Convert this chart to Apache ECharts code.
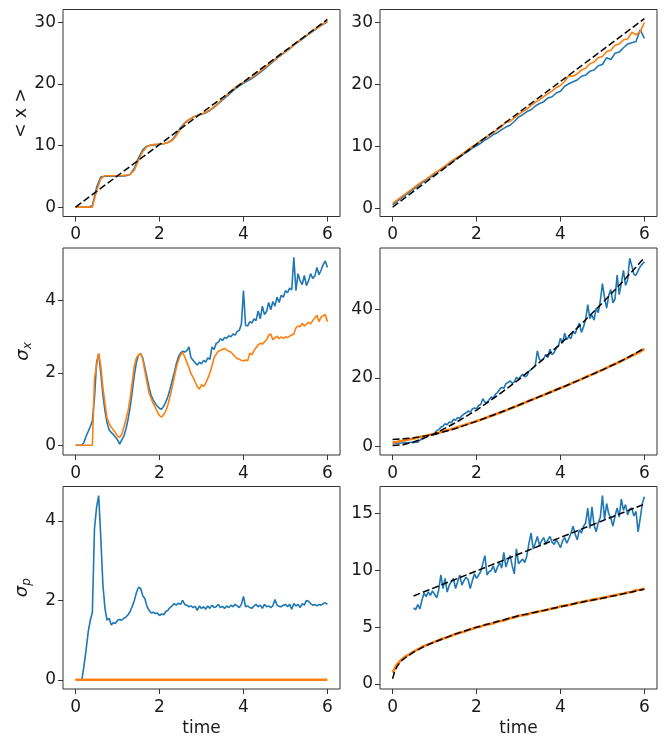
<!DOCTYPE html>
<html><head><meta charset="utf-8">
<script src="https://cdn.jsdelivr.net/npm/echarts@6/dist/echarts.min.js"></script>
<style>html,body{margin:0;padding:0;background:#fff}#c{width:667px;height:738px}</style>
</head><body><div id="c"></div>
<script>
// ---- sampling times ----
const tFine = [0,0.05,0.1,0.15,0.2,0.25,0.3,0.35,0.4,0.45,0.5,0.55,0.6,0.65,0.7,0.75,0.8,0.85,0.9,0.95,
1,1.05,1.1,1.15,1.2,1.25,1.3,1.35,1.4,1.45,1.5,1.55,1.6,1.65,1.7,1.75,1.8,1.85,1.9,1.95,
2,2.05,2.1,2.15,2.2,2.25,2.3,2.35,2.4,2.45,2.5,2.55,2.6,2.65,2.7,2.75,2.8,2.85,2.9,2.95,
3,3.05,3.1,3.15,3.2,3.25,3.3,3.35,3.4,3.45,3.5,3.55,3.6,3.65,3.7,3.75,3.8,3.85,3.9,3.95,
4,4.05,4.1,4.15,4.2,4.25,4.3,4.35,4.4,4.45,4.5,4.55,4.6,4.65,4.7,4.75,4.8,4.85,4.9,4.95,
5,5.05,5.1,5.15,5.2,5.25,5.3,5.35,5.4,5.45,5.5,5.55,5.6,5.65,5.7,5.75,5.8,5.85,5.9,5.95,6];
const tCoarse = [0,0.1,0.2,0.3,0.4,0.5,0.6,0.7,0.8,0.9,1,1.1,1.2,1.3,1.4,1.5,1.6,1.7,1.8,1.9,
2,2.1,2.2,2.3,2.4,2.5,2.6,2.7,2.8,2.9,3,3.1,3.2,3.3,3.4,3.5,3.6,3.7,3.8,3.9,
4,4.1,4.2,4.3,4.4,4.5,4.6,4.7,4.8,4.9,5,5.1,5.2,5.3,5.4,5.5,5.6,5.7,5.8,5.9,6];
const tLate = tFine.slice(10); // 0.5 .. 6

// ---- panel 1: <x> (left) ----
const meanXBlueL = [0,0,0,0,0.2,3.2,4.9,5.0,5.0,5.0, 5.0,5.0,5.1,5.3,6.3,8.0,9.3,9.9,10.1,10.1,
10.2,10.3,10.5,10.9,11.8,12.9,13.7,14.2,14.6,14.9, 15.1,15.3,15.7,16.2,16.8,17.4,18.0,18.6,19.2,19.7,
20.1,20.5,20.9,21.4,21.9,22.4,23.0,23.6,24.2,24.7, 25.2,25.7,26.3,26.8,27.3,27.8,28.3,28.8,29.3,29.7, 30.1];
const meanXOrangeL = [0,0,0,0,0,2.6,4.6,5.1,5.1,5.1, 5.1,5.1,5.2,5.3,6.0,7.6,9.0,9.8,10.1,10.2,
10.2,10.3,10.5,10.8,11.6,12.7,13.6,14.2,14.6,14.9, 15.1,15.4,15.8,16.3,16.9,17.6,18.2,18.8,19.4,19.9,
20.3,20.7,21.1,21.6,22.1,22.6,23.2,23.7,24.3,24.8, 25.3,25.8,26.4,26.9,27.4,27.9,28.4,28.9,29.3,29.8, 30.2];
const meanXFitLT = [0, 6];
const meanXFitL = [0, 30.5];

// ---- panel 2: <x> (right) ----
const meanXBlueR = [0.6,1.1,1.6,2.1,2.6,3.1,3.6,4.1,4.6,5.0, 5.5,6.0,6.5,6.9,7.4,7.9,8.3,8.8,9.2,9.7,
10.1,10.5,11.0,11.4,11.9,12.2,12.7,13.1,13.4,14.0, 14.7,15.1,15.6,15.9,16.5,16.9,17.2,17.8,18.0,18.6,
18.9,19.7,20.1,20.4,20.7,21.3,21.5,22.1,22.3,23.0, 23.2,24.3,24.0,25.0,25.2,25.9,26.5,26.7,26.9,28.8, 27.4];
const meanXOrangeR = [0.8,1.3,1.8,2.3,2.8,3.3,3.8,4.3,4.7,5.2, 5.7,6.1,6.6,7.1,7.6,8.1,8.5,9.0,9.5,10.0,
10.4,10.9,11.3,11.8,12.2,12.7,13.2,13.9,14.0,14.6, 15.1,15.6,16.0,16.6,17.1,17.5,18.0,18.5,18.9,19.5,
19.8,20.5,21.4,21.3,21.7,22.3,22.6,23.3,23.6,24.3, 24.5,25.3,25.5,26.3,26.5,27.2,27.3,28.4,28.0,28.5, 30.0];
const meanXFitRT = [0, 6];
const meanXFitR = [0.2, 30.6];

// ---- panel 3: sigma_x (left) ----
const sxBlueL = [0,0,0,0,0.08,0.25,0.38,0.52,0.68,1.3,2.3,2.53,2.0,1.4,0.95,0.62,0.42,0.35,0.3,0.22,
0.15,0.03,0.15,0.25,0.45,0.72,1.05,1.5,1.95,2.3,2.5,2.54,2.42,2.15,1.88,1.6,1.38,1.25,1.15,1.08,
1.02,1.0,1.08,1.2,1.35,1.55,1.78,2.0,2.25,2.45,2.55,2.6,2.58,2.62,2.72,2.42,2.35,2.28,2.22,2.3,
2.25,2.35,2.3,2.42,2.38,2.72,2.65,2.82,2.85,2.95,2.9,2.98,2.96,3.03,3.0,3.08,3.05,3.15,3.18,3.35,
4.28,3.32,3.3,3.42,3.38,3.5,3.45,3.72,3.5,3.85,3.62,3.7,3.95,3.75,3.98,3.85,4.1,3.95,4.15,4.1,
4.28,4.22,4.35,4.3,5.2,4.28,4.75,4.55,4.45,4.7,4.42,4.55,4.75,4.62,4.68,4.92,4.72,4.85,5.0,5.1, 4.92];
const sxOrangeL = [0,0,0,0,0,0,0,0,0,1.85,2.2,2.54,2.2,1.6,1.15,0.75,0.6,0.5,0.42,0.35,
0.25,0.22,0.3,0.5,0.72,0.95,1.3,1.75,2.2,2.42,2.5,2.54,2.38,2.05,1.75,1.45,1.3,1.15,1.05,0.92,
0.82,0.78,0.85,0.95,1.12,1.35,1.6,1.88,2.15,2.35,2.5,2.57,2.45,2.3,2.15,1.98,1.88,1.75,1.62,1.55,
1.68,1.62,1.72,1.85,2.0,2.2,2.42,2.52,2.6,2.62,2.66,2.68,2.64,2.6,2.58,2.52,2.45,2.4,2.38,2.35,
2.33,2.36,2.34,2.55,2.5,2.62,2.7,2.78,2.82,2.8,2.86,2.92,3.05,3.08,2.92,2.98,3.02,2.95,3.0,2.96,
3.0,2.98,3.02,3.05,3.08,3.25,3.3,3.28,3.38,3.3,3.35,3.4,3.36,3.45,3.52,3.6,3.42,3.55,3.58,3.62, 3.42];

// ---- panel 4: sigma_x (right) ----
const sxBlueR = [0.9,0.9,1.0,0.9,1.0,1.0,1.1,1.0,1.1,1.2,1.1,1.3,1.2,1.8,2.2,2.6,3.0,3.3,3.5,3.4,
3.8,4.6,4.9,5.6,5.9,6.6,6.3,7.1,6.9,7.9,7.6,8.4,8.2,8.9,9.4,9.8,10.3,10.0,10.9,11.2,
11.0,11.9,12.2,13.9,12.9,12.8,13.6,14.4,14.1,15.2,15.7,16.6,17.2,16.9,18.3,18.6,19.1,18.4,18.8,20.1,
19.6,20.4,21.0,20.3,20.6,21.9,22.4,22.9,23.6,27.8,25.3,24.9,25.6,26.8,25.9,28.3,26.7,27.4,28.6,29.2,
31.5,30.1,33.0,31.1,32.0,31.4,33.6,32.8,34.5,35.9,33.2,34.9,36.9,41.3,37.2,38.3,36.8,40.3,39.0,42.4,
47.4,43.3,40.3,44.0,45.7,41.8,43.0,49.9,44.2,47.6,51.3,46.9,48.5,54.8,52.6,50.1,49.9,51.2,52.4,53.1, 53.8];
const sxOrangeR = [1.1,1.3,1.6,1.8,2.1,2.3,2.6,2.9,3.1,3.4, 3.7,4.0,4.4,4.7,5.0,5.4,5.8,6.2,6.6,7.0,
7.4,7.8,8.2,8.7,9.1,9.6,10.0,10.5,11.0,11.5, 12.0,12.5,13.0,13.5,14.0,14.5,15.0,15.5,16.0,16.5,
17.0,17.5,18.0,18.6,19.1,19.6,20.2,20.7,21.2,21.8, 22.3,22.9,23.5,24.0,24.6,25.2,25.8,26.4,27.0,27.6, 28.4];
const sxFitT = [0,0.25,0.5,0.75,1,1.5,2,2.5,3,3.5,4,4.5,5,5.5,6];
const sxFitBlue = [0.3,0.5,1.3,2.4,3.7,6.9,10.6,14.8,19.4,24.5,29.9,35.7,41.8,48.2,55.0];
const sxFitOrange = [2.0,2.2,2.5,3.0,3.5,5.2,7.3,9.6,12.0,14.5,17.0,19.6,22.3,25.2,28.6];

// ---- panel 5: sigma_p (left) ----
const spBlueL = [0,0,0,0,0.35,0.75,1.2,1.5,1.7,3.8,4.35,4.64,3.6,2.4,1.8,1.5,1.55,1.38,1.44,1.42,
1.5,1.52,1.5,1.55,1.58,1.64,1.72,1.85,2.0,2.2,2.33,2.3,2.12,2.05,1.85,1.75,1.68,1.7,1.67,1.68,
1.62,1.66,1.64,1.72,1.75,1.82,1.86,1.92,1.88,1.93,1.9,2.0,1.9,1.88,1.84,1.86,1.82,1.85,1.75,1.86,
1.8,1.84,1.78,1.86,1.8,1.88,1.82,1.84,1.9,1.82,1.85,1.8,1.86,1.82,1.88,1.84,1.9,1.86,1.82,1.9,
2.1,1.84,1.86,1.82,1.8,1.86,1.9,1.84,1.88,1.8,1.9,1.84,1.86,1.82,1.86,2.02,1.88,1.85,1.84,1.88,
1.9,1.84,1.9,1.78,1.92,1.86,1.9,1.82,1.92,1.88,2.0,1.98,1.92,1.88,1.9,1.86,1.9,1.88,1.92,1.94, 1.9];
const spOrangeLT = [0, 6];
const spOrangeL = [0, 0];

// ---- panel 6: sigma_p (right) ----
const spBlueR = [6.7,6.55,7.0,6.6,7.4,8.0,7.7,8.1,7.8,8.2,
7.9,7.6,8.3,9.6,8.4,9.3,8.1,8.7,9.0,9.3,8.4,9.0,9.6,8.7,9.1,9.4,9.2,8.4,9.1,9.7,
9.3,9.6,9.9,10.6,11.3,9.6,9.9,10.0,10.4,9.8,10.3,10.7,10.2,11.6,10.3,10.9,11.3,10.4,9.7,11.9,
10.6,10.8,11.0,10.7,11.3,12.4,13.3,11.9,12.4,13.0,12.2,12.6,12.9,12.3,12.7,13.0,12.5,12.3,12.7,12.4,
12.0,12.6,12.9,12.4,12.8,13.3,13.9,13.2,12.7,13.6,13.3,13.9,14.2,15.5,13.7,15.6,14.0,13.4,14.2,14.7,
16.6,14.5,15.9,15.0,14.6,13.9,14.8,15.5,14.7,16.3,15.3,15.8,14.9,15.4,15.5,14.8,15.2,13.4,14.6,15.9, 16.5];
const spOrangeR = [1.0,1.7,2.1,2.4,2.6,2.85,3.05,3.25,3.4,3.55, 3.7,3.85,4.0,4.1,4.25,4.4,4.5,4.6,4.75,4.85,
5.0,5.05,5.2,5.25,5.35,5.5,5.55,5.65,5.8,5.85, 6.0,6.05,6.1,6.25,6.3,6.4,6.45,6.55,6.65,6.7,
6.85,6.9,6.95,7.05,7.15,7.2,7.3,7.35,7.45,7.5, 7.6,7.65,7.75,7.8,7.9,7.95,8.05,8.1,8.25,8.3, 8.4];
const spFitBlueT = [0.5, 6];
const spFitBlue = [7.75, 15.85];
const spFitOrangeT = [0,0.05,0.1,0.2,0.3,0.5,0.75,1,1.5,2,2.5,3,3.5,4,4.5,5,5.5,6];
const spFitOrange = [0.45,1.1,1.5,2.0,2.3,2.8,3.3,3.7,4.4,5.0,5.5,6.0,6.4,6.8,7.2,7.55,7.95,8.35];

// ---- ticks ----
const xTicks = [0, 2, 4, 6];
const yTicks = [[0,10,20,30],[0,10,20,30],[0,2,4],[0,20,40],[0,2,4],[0,5,10,15]];
const yRange = [[-1.53,32.1],[-1.32,32.07],[-0.27,5.46],[-2.5,57.8],[-0.232,4.87],[-0.45,17.4]];

const BLUE = '#1f77b4', ORANGE = '#ff7f0e', FONT = 'DejaVu Sans';
const zip = (t, v) => v.map((y, i) => [t[i], y]);

const lefts = [63, 380], tops = [9.5, 248, 486.5];
const grids = [], xAxes = [], yAxes = [];
const yNames = ['< x >', '', '{s|σ}{sub|x}', '', '{s|σ}{sub|p}', ''];
const yNameGaps = [26, 0, 29, 0, 30, 0];
for (let i = 0; i < 6; i++) {
  const r = Math.floor(i / 2), c = i % 2;
  grids.push({left: lefts[c], top: tops[r], width: 277, height: 207, show: true,
    borderColor: '#333', borderWidth: 1, backgroundColor: '#fff', containLabel: false});
  xAxes.push({type: 'value', gridIndex: i, min: -0.3, max: 6.3, position: 'bottom',
    axisLine: {show: false, onZero: false}, splitLine: {show: false},
    axisTick: {show: true, length: 5, lineStyle: {color: '#333'}, customValues: xTicks},
    axisLabel: {customValues: xTicks, fontSize: 17, fontFamily: FONT, color: '#1a1a1a', margin: 10},
    name: r === 2 ? 'time' : '', nameLocation: 'middle', nameGap: 31,
    nameTextStyle: {fontSize: 17, fontFamily: FONT, color: '#1a1a1a'}});
  yAxes.push({type: 'value', gridIndex: i, min: yRange[i][0], max: yRange[i][1], position: 'left',
    axisLine: {show: false, onZero: false}, splitLine: {show: false},
    axisTick: {show: true, length: 5, lineStyle: {color: '#333'}, customValues: yTicks[i]},
    axisLabel: {customValues: yTicks[i], fontSize: 17, fontFamily: FONT, color: '#1a1a1a', margin: 7},
    name: yNames[i], nameLocation: 'middle', nameGap: yNameGaps[i], nameRotate: 90,
    nameTextStyle: {fontSize: 17, fontFamily: FONT, color: '#1a1a1a',
      rich: {s: {fontSize: 18, fontStyle: 'italic', fontFamily: FONT, color: '#1a1a1a', verticalAlign: 'middle', lineHeight: 22},
             sub: {fontSize: 12, fontStyle: 'italic', fontFamily: FONT, color: '#1a1a1a', verticalAlign: 'bottom', lineHeight: 22, padding: [8, 0, 0, 0]}}}});
}

function line(idx, data, color, width, dashed, z) {
  return {type: 'line', xAxisIndex: idx, yAxisIndex: idx, data: data, showSymbol: false,
    symbol: 'none', animation: false, silent: true,
    lineStyle: {color: color, width: width, type: dashed ? [7, 3] : 'solid'},
    itemStyle: {color: color}, z: z || (dashed ? 5 : 3)};
}

const series = [
  line(0, zip(tCoarse, meanXBlueL), BLUE, 1.6),
  line(0, zip(tCoarse, meanXOrangeL), ORANGE, 1.6, false, 4),
  line(0, zip(meanXFitLT, meanXFitL), '#000', 1.5, true),
  line(1, zip(tCoarse, meanXBlueR), BLUE, 1.6),
  line(1, zip(tCoarse, meanXOrangeR), ORANGE, 1.6, false, 4),
  line(1, zip(meanXFitRT, meanXFitR), '#000', 1.5, true),
  line(2, zip(tFine, sxBlueL), BLUE, 1.6),
  line(2, zip(tFine, sxOrangeL), ORANGE, 1.6, false, 4),
  line(3, zip(tFine, sxBlueR), BLUE, 1.6),
  line(3, zip(tCoarse, sxOrangeR), ORANGE, 2.6, false, 4),
  line(3, zip(sxFitT, sxFitBlue), '#000', 1.5, true),
  line(3, zip(sxFitT, sxFitOrange), '#000', 1.5, true),
  line(4, zip(tFine, spBlueL), BLUE, 1.6),
  line(4, zip(spOrangeLT, spOrangeL), ORANGE, 2.4, false, 4),
  line(5, zip(tLate, spBlueR), BLUE, 1.6),
  line(5, zip(tCoarse, spOrangeR), ORANGE, 2.6, false, 4),
  line(5, zip(spFitBlueT, spFitBlue), '#000', 1.5, true),
  line(5, zip(spFitOrangeT, spFitOrange), '#000', 1.5, true)
];

const chart = echarts.init(document.getElementById('c'), null, {renderer: 'canvas'});
chart.setOption({animation: false, backgroundColor: '#fff', grid: grids, xAxis: xAxes, yAxis: yAxes, series: series});
</script></body></html>
